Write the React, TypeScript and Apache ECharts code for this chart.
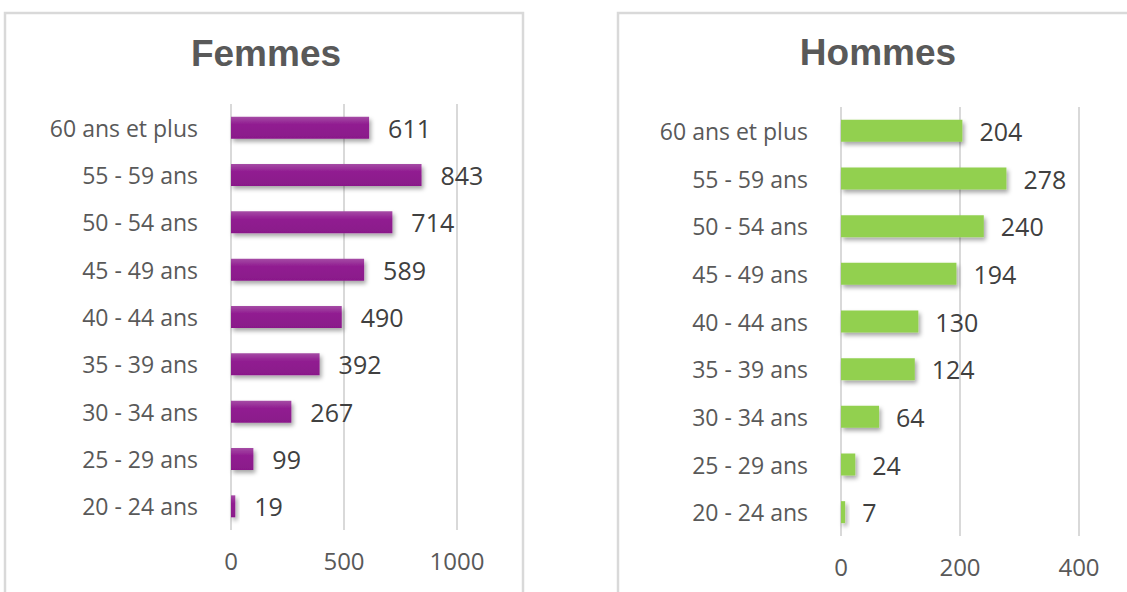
import React, { useEffect, useRef } from "react";
import * as echarts from "echarts";

const categories = [
  "60 ans et plus",
  "55 - 59 ans",
  "50 - 54 ans",
  "45 - 49 ans",
  "40 - 44 ans",
  "35 - 39 ans",
  "30 - 34 ans",
  "25 - 29 ans",
  "20 - 24 ans",
];
const femmes = [611, 843, 714, 589, 490, 392, 267, 99, 19];
const hommes = [204, 278, 240, 194, 130, 124, 64, 24, 7];
const femmesTicks = { min: 0, max: 1000, interval: 500 };
const hommesTicks = { min: 0, max: 400, interval: 200 };

const FONT = "'Open Sans', sans-serif";

export default function App() {
  const ref = useRef<HTMLDivElement>(null);
  useEffect(() => {
    if (!ref.current) return;
    const chart = echarts.init(ref.current, undefined, { renderer: "svg" });
    const catAxis = (gridIndex: number) => ({
      type: "category",
      gridIndex,
      data: categories,
      inverse: true,
      axisLine: { show: false },
      axisTick: { show: false },
      axisLabel: { color: "#595959", fontSize: 23, fontFamily: FONT, margin: 33 },
    });
    const valAxis = (gridIndex: number, t: { min: number; max: number; interval: number }) => ({
      type: "value",
      gridIndex,
      min: t.min,
      max: t.max,
      interval: t.interval,
      axisLine: { show: false },
      axisTick: { show: false },
      axisLabel: {
        color: "#595959",
        fontSize: 24,
        fontFamily: FONT,
        margin: 18,
        formatter: (v: number) => String(v),
      },
      splitLine: { show: true, lineStyle: { color: "#D9D9D9", width: 2 } },
    });
    const shadow = {
      shadowColor: "rgba(0,0,0,0.35)",
      shadowBlur: 4,
      shadowOffsetX: 2,
      shadowOffsetY: 3,
    };
    const titleStyle = {
      color: "#595959",
      fontSize: 37,
      fontWeight: "bold",
      fontFamily: "'Liberation Sans', Arial, sans-serif",
    };
    chart.setOption({
      animation: false,
      backgroundColor: "#ffffff",
      title: [
        { text: "Femmes", left: 261, top: 30, textAlign: "center", textStyle: titleStyle },
        { text: "Hommes", left: 873, top: 29, textAlign: "center", textStyle: titleStyle },
      ],
      graphic: [
        {
          type: "rect",
          shape: { x: 5, y: 13, width: 518, height: 640 },
          style: { fill: "none", stroke: "#D9D9D9", lineWidth: 2.5 },
          silent: true,
        },
        {
          type: "rect",
          shape: { x: 618, y: 13, width: 560, height: 640 },
          style: { fill: "none", stroke: "#D9D9D9", lineWidth: 2.5 },
          silent: true,
        },
      ],
      grid: [
        { left: 231, width: 226, top: 104, height: 426 },
        { left: 841, width: 238, top: 107, height: 429 },
      ],
      yAxis: [catAxis(0), catAxis(1)],
      xAxis: [valAxis(0, femmesTicks), valAxis(1, hommesTicks)],
      series: [
        {
          type: "bar",
          xAxisIndex: 0,
          yAxisIndex: 0,
          data: femmes,
          barWidth: 22,
          itemStyle: {
            color: new echarts.graphic.LinearGradient(0, 0, 0, 1, [
              { offset: 0, color: "#A54BA5" },
              { offset: 0.35, color: "#911D91" },
              { offset: 1, color: "#8A198A" },
            ]),
            ...shadow,
          },
          label: {
            show: true,
            position: "right",
            distance: 19,
            color: "#404040",
            fontSize: 25,
            fontFamily: FONT,
          },
        },
        {
          type: "bar",
          xAxisIndex: 1,
          yAxisIndex: 1,
          data: hommes,
          barWidth: 22,
          itemStyle: {
            color: "#92D050",
            ...shadow,
          },
          label: {
            show: true,
            position: "right",
            distance: 17,
            color: "#404040",
            fontSize: 25,
            fontFamily: FONT,
          },
        },
      ],
    });
    return () => chart.dispose();
  }, []);
  return (
    <div
      ref={ref}
      style={{ position: "fixed", left: 0, top: 0, width: 1127, height: 592 }}
    />
  );
}
